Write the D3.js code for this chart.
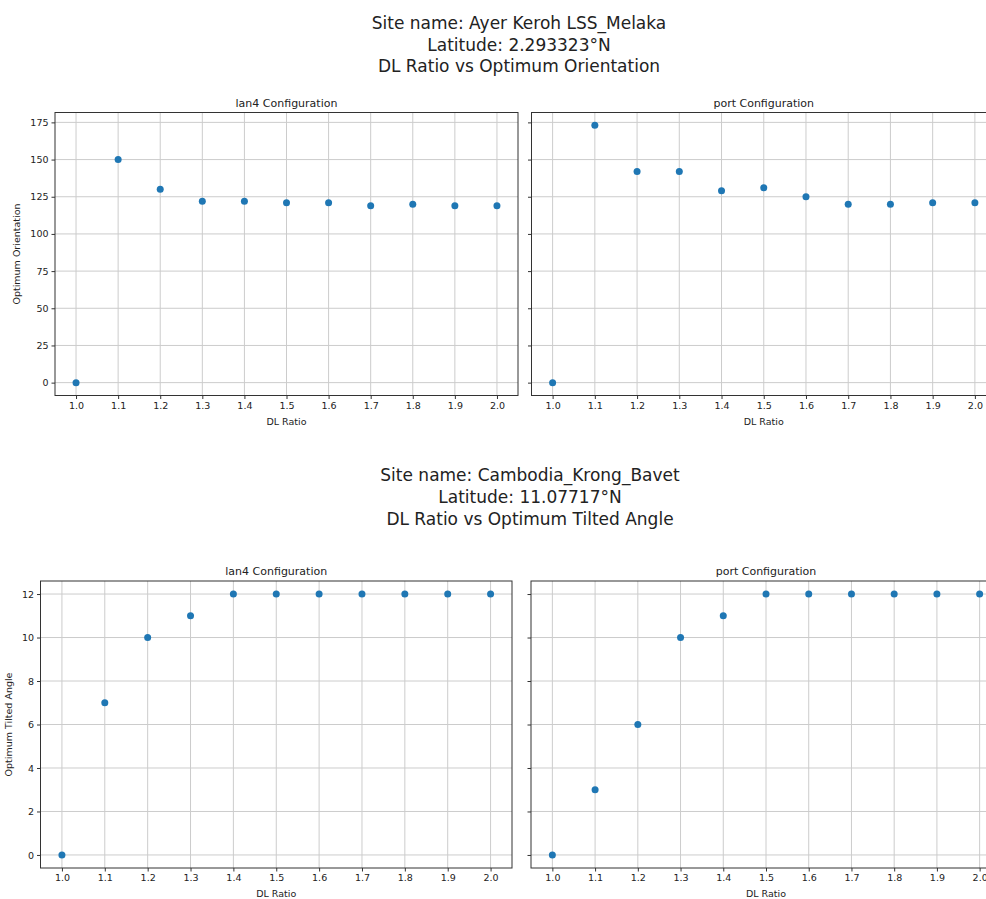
<!DOCTYPE html>
<html>
<head>
<meta charset="utf-8">
<script src="https://cdn.jsdelivr.net/npm/d3@7"></script>
<style>
  html, body { margin: 0; padding: 0; background: #fff; }
  svg { display: block; font-family: "DejaVu Sans", sans-serif; }
</style>
</head>
<body>
<svg id="chart" width="986" height="899"></svg>
<script>
// DL ratios shared by every panel
const dlRatios = [1.0, 1.1, 1.2, 1.3, 1.4, 1.5, 1.6, 1.7, 1.8, 1.9, 2.0];
const xTicks = [1.0, 1.1, 1.2, 1.3, 1.4, 1.5, 1.6, 1.7, 1.8, 1.9, 2.0];

// Ayer Keroh LSS_Melaka – optimum orientation
const orientLan4 = [0, 150, 130, 122, 122, 121, 121, 119, 120, 119, 119];
const orientPort = [0, 173, 142, 142, 129, 131, 125, 120, 120, 121, 121];
const orientTicks = [0, 25, 50, 75, 100, 125, 150, 175];

// Cambodia_Krong_Bavet – optimum tilted angle
const tiltLan4 = [0, 7, 10, 11, 12, 12, 12, 12, 12, 12, 12];
const tiltPort = [0, 3, 6, 10, 11, 12, 12, 12, 12, 12, 12];
const tiltTicks = [0, 2, 4, 6, 8, 10, 12];

const titlesTop = ["Site name: Ayer Keroh LSS_Melaka", "Latitude: 2.293323°N", "DL Ratio vs Optimum Orientation"];
const titlesBottom = ["Site name: Cambodia_Krong_Bavet", "Latitude: 11.07717°N", "DL Ratio vs Optimum Tilted Angle"];

const svg = d3.select("#chart");
const dotColor = "#1f77b4";
const gridColor = "#cccccc";
const inkColor = "#333";

// padded domain like an autoscaled axis (5% each side)
function padded(vals) {
  const [lo, hi] = d3.extent(vals);
  const m = (hi - lo) * 0.05;
  return [lo - m, hi + m];
}

function drawPanel(box, xs, ys, yDomain, yTickVals, opts) {
  const g = svg.append("g");
  const x = d3.scaleLinear().domain(padded(xs)).range([box.x0, box.x1]);
  const y = d3.scaleLinear().domain(yDomain).range([box.y1, box.y0]);

  // grid
  g.append("g").selectAll("line.v").data(xTicks).join("line")
    .attr("x1", d => x(d)).attr("x2", d => x(d))
    .attr("y1", box.y0).attr("y2", box.y1)
    .attr("stroke", gridColor).attr("stroke-width", 1);
  g.append("g").selectAll("line.h").data(yTickVals).join("line")
    .attr("x1", box.x0).attr("x2", box.x1)
    .attr("y1", d => y(d)).attr("y2", d => y(d))
    .attr("stroke", gridColor).attr("stroke-width", 1);

  // axes
  const xAxis = d3.axisBottom(x).tickValues(xTicks).tickFormat(d3.format(".1f"))
    .tickSizeInner(3.5).tickSizeOuter(0).tickPadding(3);
  const gx = g.append("g").attr("transform", `translate(0,${box.y1})`).call(xAxis);
  const yAxis = d3.axisLeft(y).tickValues(yTickVals).tickSizeInner(3.5).tickSizeOuter(0).tickPadding(3)
    .tickFormat(opts.yLabels ? d3.format("d") : () => "");
  const gy = g.append("g").attr("transform", `translate(${box.x0},0)`).call(yAxis);
  [gx, gy].forEach(a => {
    a.select(".domain").remove();
    a.selectAll("line").attr("stroke", inkColor);
    a.selectAll("text").attr("fill", "#222").style("font-size", "9.5px")
      .style("font-family", "'DejaVu Sans', sans-serif");
  });

  // frame
  g.append("rect").attr("x", box.x0).attr("y", box.y0)
    .attr("width", box.x1 - box.x0).attr("height", box.y1 - box.y0)
    .attr("fill", "none").attr("stroke", inkColor).attr("stroke-width", 1);

  // points
  g.append("g").selectAll("circle").data(xs.map((d, i) => [d, ys[i]])).join("circle")
    .attr("cx", d => x(d[0])).attr("cy", d => y(d[1])).attr("r", 3.5)
    .attr("fill", dotColor);

  // panel title
  g.append("text").attr("x", (box.x0 + box.x1) / 2).attr("y", box.y0 - 6)
    .attr("text-anchor", "middle").attr("fill", "#222").style("font-size", "11px")
    .text(opts.title);
  // x label
  g.append("text").attr("x", (box.x0 + box.x1) / 2).attr("y", box.y1 + 29)
    .attr("text-anchor", "middle").attr("fill", "#222").style("font-size", "9.5px")
    .text("DL Ratio");
  if (opts.yTitle) {
    const cy = (box.y0 + box.y1) / 2;
    g.append("text").attr("transform", `translate(${opts.yTitleX},${cy}) rotate(-90)`)
      .attr("text-anchor", "middle").attr("fill", "#222").style("font-size", "9.5px")
      .text(opts.yTitle);
  }
}

function suptitle(lines, cx, y0, step) {
  svg.append("g").selectAll("text").data(lines).join("text")
    .attr("x", cx).attr("y", (d, i) => y0 + i * step)
    .attr("text-anchor", "middle").attr("fill", "#222").style("font-size", "17px")
    .text(d => d);
}

// top figure: shared y across both configurations
const orientDomain = padded(orientLan4.concat(orientPort));
drawPanel({x0: 55, x1: 518, y0: 112.5, y1: 395.5}, dlRatios, orientLan4, orientDomain, orientTicks,
  {title: "lan4 Configuration", yLabels: true, yTitle: "Optimum Orientation", yTitleX: 20});
drawPanel({x0: 531.5, x1: 996, y0: 112.5, y1: 395.5}, dlRatios, orientPort, orientDomain, orientTicks,
  {title: "port Configuration", yLabels: false});
suptitle(titlesTop, 519, 29, 21.5);

// bottom figure
const tiltDomain = padded(tiltLan4.concat(tiltPort));
drawPanel({x0: 40.5, x1: 512, y0: 581, y1: 868}, dlRatios, tiltLan4, tiltDomain, tiltTicks,
  {title: "lan4 Configuration", yLabels: true, yTitle: "Optimum Tilted Angle", yTitleX: 12});
drawPanel({x0: 531, x1: 1001, y0: 581, y1: 868}, dlRatios, tiltPort, tiltDomain, tiltTicks,
  {title: "port Configuration", yLabels: false});
suptitle(titlesBottom, 530, 481, 22);
</script>
</body>
</html>
